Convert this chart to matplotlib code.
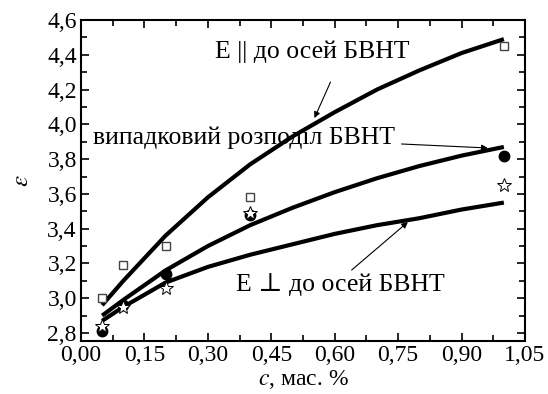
import numpy as np
import matplotlib
matplotlib.use('Agg')
import matplotlib.pyplot as plt
from matplotlib.ticker import MultipleLocator, FuncFormatter

# experimental points
c_pts = [0.05, 0.1, 0.2, 0.4, 1.0]
eps_par = [3.00, 3.19, 3.30, 3.58, 4.45]
eps_rand = [2.81, 2.96, 3.14, 3.48, 3.82]
eps_perp = [2.84, 2.95, 3.06, 3.49, 3.65]

# model curves
c_fit = [0.05, 0.1, 0.2, 0.3, 0.4, 0.5, 0.6, 0.7, 0.8, 0.9, 1.0]
fit_par = [2.96, 3.10, 3.36, 3.58, 3.77, 3.93, 4.07, 4.20, 4.31, 4.41, 4.49]
fit_rand = [2.90, 2.99, 3.16, 3.30, 3.42, 3.52, 3.61, 3.69, 3.76, 3.82, 3.87]
fit_perp = [2.87, 2.95, 3.09, 3.18, 3.25, 3.31, 3.37, 3.42, 3.46, 3.51, 3.55]

plt.rcParams['font.family'] = ['Liberation Serif', 'DejaVu Serif']
plt.rcParams['mathtext.fontset'] = 'stix'

fig = plt.figure(figsize=(5.48, 3.94), dpi=100)
ax = fig.add_axes([81/548, 1-341/394, (525-81)/548, (341-20)/394])

for f in (fit_par, fit_rand, fit_perp):
    ax.plot(c_fit, f, color='black', lw=3.0, solid_capstyle='butt')

ax.plot(c_pts, eps_par, ls='none', marker='s', ms=6, mfc='white', mec='#444444', mew=1.0)
ax.plot(c_pts, eps_rand, ls='none', marker='o', ms=7.5, mfc='black', mec='black')
ax.plot(c_pts, eps_perp, ls='none', marker='*', ms=10, mfc='white', mec='black', mew=0.7)

ax.set_xlim(0, 1.05)
ax.set_ylim(2.754, 4.6)
ax.xaxis.set_major_locator(MultipleLocator(0.15))
ax.xaxis.set_minor_locator(MultipleLocator(0.075))
ax.yaxis.set_major_locator(MultipleLocator(0.2))
ax.yaxis.set_minor_locator(MultipleLocator(0.1))
ax.xaxis.set_major_formatter(FuncFormatter(lambda v, p: ('%.2f' % v).replace('.', ',')))
ax.yaxis.set_major_formatter(FuncFormatter(lambda v, p: ('%.1f' % v).replace('.', ',')))
ax.tick_params(which='both', direction='in', top=True, right=True, labelsize=17, width=1.2)
ax.tick_params(which='major', length=6, pad=3)
ax.tick_params(which='minor', length=4)
for s in ax.spines.values():
    s.set_linewidth(1.5)

ax.set_xlabel(r'$c$, мас. %', fontsize=17, labelpad=1)
ax.set_ylabel(r'$\varepsilon$', fontsize=18, labelpad=10)

ax.text(0.548, 4.416, 'E || до осей БВНТ', fontsize=18.5, ha='center', va='center')
ax.text(0.386, 3.92, 'випадковий розподіл БВНТ', fontsize=18.5, ha='center', va='center')
ax.text(0.614, 3.076, 'E ⊥ до осей БВНТ', fontsize=18.5, ha='center', va='center')

arrow = dict(arrowstyle='-|>', color='black', lw=0.8, mutation_scale=9, shrinkA=0, shrinkB=0)
ax.annotate('', xy=(0.552, 4.036), xytext=(0.590, 4.243), arrowprops=arrow)
ax.annotate('', xy=(0.962, 3.864), xytext=(0.758, 3.887), arrowprops=arrow)
ax.annotate('', xy=(0.773, 3.438), xytext=(0.640, 3.162), arrowprops=arrow)

fig.savefig('out.png', dpi=100)
